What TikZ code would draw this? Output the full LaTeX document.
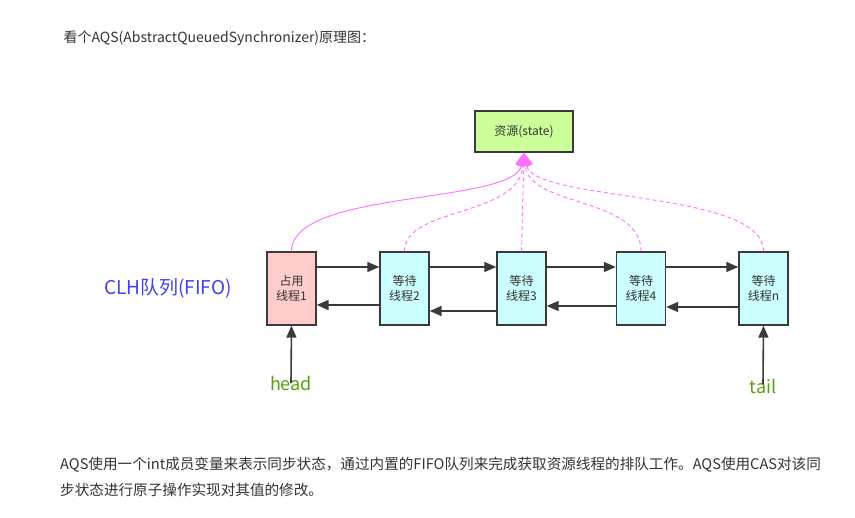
\documentclass[tikz,border=0pt]{standalone}
\usepackage{fontspec}
\setmainfont{Noto Sans CJK SC}
\usetikzlibrary{positioning, calc, arrows.meta}

\definecolor{txtgray}{HTML}{333333}
\definecolor{boxline}{HTML}{3A3A3A}
\definecolor{stategreen}{HTML}{CCFF99}
\definecolor{ownpink}{HTML}{FFCCCC}
\definecolor{waitcyan}{HTML}{CCFFFF}
\definecolor{casmagenta}{HTML}{FF70FF}
\definecolor{clhblue}{HTML}{4040F0}
\definecolor{ptrgreen}{HTML}{5A9E10}

\begin{document}
\begin{tikzpicture}[
	x=1pt, y=-1pt,
	font=\fontsize{12}{14}\selectfont,
	thread/.style={
		draw=boxline, line width=1.4pt, text=txtgray,
		minimum width=49pt, minimum height=73pt,
		align=center, inner sep=0pt,
		font=\fontsize{12}{15}\selectfont
	},
	waiting/.style={thread, fill=waitcyan},
	link/.style={-{Triangle[length=12pt, width=10pt]}, line width=1.6pt, color=boxline},
	cas/.style={-{Triangle[length=13pt, width=13pt]}, line width=0.9pt, color=casmagenta},
	cas-wait/.style={cas, dash pattern=on 4pt off 3pt},
	ptr/.style={text=ptrgreen, font=\fontsize{18}{20}\selectfont}
	]
	
	\useasboundingbox (0,0) rectangle (855,518);
	
	% Title line
	\node[anchor=west, text=txtgray, font=\fontsize{14}{16}\selectfont] (title) at (60,38) {看个AQS(AbstractQueuedSynchronizer)原理图：};
	
	% Shared state
	\node[draw=boxline, line width=1.4pt, fill=stategreen, text=txtgray,
		minimum width=98pt, minimum height=41pt,
		font=\fontsize{12}{14}\selectfont] (state) at (524,131.5) {资源(state)};
	
	% Queue nodes
	\node[thread, fill=ownpink] (t1) at (291.5,288.5) {占用\\线程1};
	\node[waiting] (t2) at (404.5,288.5) {等待\\线程2};
	\node[waiting] (t3) at (521.5,288.5) {等待\\线程3};
	\node[waiting] (t4) at (641,288.5) {等待\\线程4};
	\node[waiting] (tn) at (763.5,288.5) {等待\\线程n};
	
	\node[text=clhblue, font=\fontsize{19}{21}\selectfont] (clh) at (168,288) {CLH队列(FIFO)};
	
	% next / prev links
	\draw[link] ([yshift=21.5pt]t1.east) -- ([yshift=21.5pt]t2.west);
	\draw[link] ([yshift=21.5pt]t2.east) -- ([yshift=21.5pt]t3.west);
	\draw[link] ([yshift=21.5pt]t3.east) -- ([yshift=21.5pt]t4.west);
	\draw[link] ([yshift=21.5pt]t4.east) -- ([yshift=21.5pt]tn.west);
	\draw[link] ([yshift=-16.5pt]t2.west) -- ([yshift=-16.5pt]t1.east);
	\draw[link] ([yshift=-22.5pt]t3.west) -- ([yshift=-22.5pt]t2.east);
	\draw[link] ([yshift=-17.5pt]t4.west) -- ([yshift=-17.5pt]t3.east);
	\draw[link] ([yshift=-18.5pt]tn.west) -- ([yshift=-18.5pt]t4.east);
	
	% CAS on state
	\draw[cas] (t1.north) .. controls ($(t1.north)+(0,-62)$) and ($(state.south)+(-10,52)$) .. (state.south);
	\draw[cas-wait] (t2.north) .. controls ($(t2.north)+(0,-45)$) and ($(state.south)+(-5,65)$) .. (state.south);
	\draw[cas-wait] (t3.north) -- (state.south);
	\draw[cas-wait] (t4.north) .. controls ($(t4.north)+(0,-55)$) and ($(state.south)+(5,55)$) .. (state.south);
	\draw[cas-wait] (tn.north) .. controls ($(tn.north)+(0,-62)$) and ($(state.south)+(10,50)$) .. (state.south);
	
	% head / tail pointers
	\node[ptr] (head) at (291,383) {head};
	\node[ptr] (tail) at (763,386) {tail};
	\draw[link] ([yshift=-11pt]head.north) -- (t1.south);
	\draw[link] ([yshift=-9pt]tail.north) -- (tn.south);
	
	% Description
	\node[anchor=north west, align=left, text=txtgray, inner sep=0pt,
		font=\fontsize{14.6}{26}\selectfont] (desc) at (60,457) {AQS使用一个int成员变量来表示同步状态，通过内置的FIFO队列来完成获取资源线程的排队工作。AQS使用CAS对该同\\步状态进行原子操作实现对其值的修改。};
	
\end{tikzpicture}
\end{document}
